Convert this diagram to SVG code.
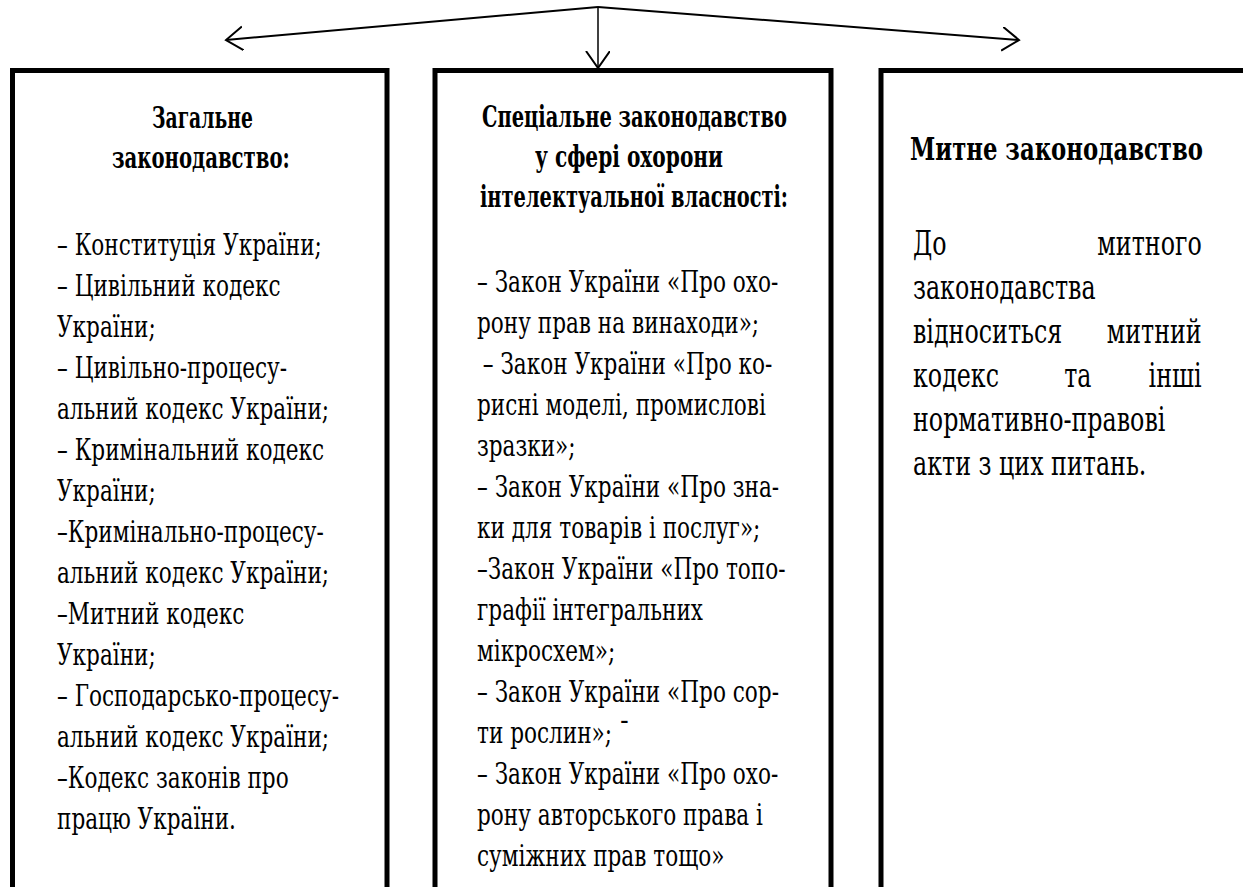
<svg xmlns="http://www.w3.org/2000/svg" width="1243" height="887" viewBox="0 0 1243 887">
<style>
.box{fill:#fff;stroke:#000;stroke-width:5}
.t{font-family:"DejaVu Serif","Liberation Serif",serif;font-size:30px;fill:#000}
.r{font-size:33px}
.b{font-weight:bold}
.ln{fill:none;stroke:#000;stroke-width:2}
</style>
<defs>
<marker id="arr" markerUnits="userSpaceOnUse" markerWidth="30" markerHeight="30" refX="17" refY="12" orient="auto"><path d="M0,0 L17,12 L0,24" fill="none" stroke="#000" stroke-width="2"/></marker>
</defs>
<rect width="1243" height="887" fill="#fff"/>
<g id="connectors">
<path class="ln" d="M598,7 L226,40" marker-end="url(#arr)"/>
<path class="ln" d="M598,7 L1019,40" marker-end="url(#arr)"/>
<path class="ln" d="M598,7 L598,68" style="stroke-width:1.5" marker-end="url(#arr)"/>
</g>
<g id="general">
<rect class="box" x="12.5" y="70.5" width="374.5" height="840"/>
<g transform="translate(152,128) scale(0.7,1)"><text class="t b" x="0" y="0" textLength="144" lengthAdjust="spacingAndGlyphs">Загальне</text></g>
<g transform="translate(112,168) scale(0.7,1)"><text class="t b" x="0" y="0" textLength="254" lengthAdjust="spacingAndGlyphs">законодавство:</text></g>
<g transform="translate(57,0) scale(0.72,1)">
<text class="t" x="0" y="255.5">– Конституція України;</text>
<text class="t" x="0" y="296.5">– Цивільний кодекс</text>
<text class="t" x="0" y="337.5">України;</text>
<text class="t" x="0" y="378.5">– Цивільно-процесу-</text>
<text class="t" x="0" y="419.5">альний кодекс України;</text>
<text class="t" x="0" y="460.5">– Кримінальний кодекс</text>
<text class="t" x="0" y="501.5">України;</text>
<text class="t" x="0" y="542.5">–Кримінально-процесу-</text>
<text class="t" x="0" y="583.5">альний кодекс України;</text>
<text class="t" x="0" y="624.5">–Митний кодекс</text>
<text class="t" x="0" y="665.5">України;</text>
<text class="t" x="0" y="706.5">– Господарсько-процесу-</text>
<text class="t" x="0" y="747.5">альний кодекс України;</text>
<text class="t" x="0" y="788.5">–Кодекс законів про</text>
<text class="t" x="0" y="829.5">працю України.</text>
</g>
</g>
<g id="special">
<rect class="box" x="435" y="70.5" width="396" height="840"/>
<g transform="translate(482,127) scale(0.7,1)"><text class="t b" x="0" y="0" textLength="435.7" lengthAdjust="spacingAndGlyphs">Спеціальне законодавство</text></g>
<g transform="translate(535,167) scale(0.7,1)"><text class="t b" x="0" y="0" textLength="268.6" lengthAdjust="spacingAndGlyphs">у сфері охорони</text></g>
<g transform="translate(480,207) scale(0.7,1)"><text class="t b" x="0" y="0" textLength="440" lengthAdjust="spacingAndGlyphs">інтелектуальної власності:</text></g>
<g transform="translate(477,0) scale(0.72,1)">
<text class="t" x="0" y="292.5">– Закон України «Про охо-</text>
<text class="t" x="0" y="333.5">рону прав на винаходи»;</text>
<text class="t" x="8" y="374.5">– Закон України «Про ко-</text>
<text class="t" x="0" y="415.5">рисні моделі, промислові</text>
<text class="t" x="0" y="456.5">зразки»;</text>
<text class="t" x="0" y="497.5">– Закон України «Про зна-</text>
<text class="t" x="0" y="538.5">ки для товарів і послуг»;</text>
<text class="t" x="0" y="579.5">–Закон України «Про топо-</text>
<text class="t" x="0" y="620.5">графії інтегральних</text>
<text class="t" x="0" y="661.5">мікросхем»;</text>
<text class="t" x="0" y="702.5">– Закон України «Про сор-</text>
<text class="t" x="0" y="743.5">ти рослин»; ˉ</text>
<text class="t" x="0" y="784.5">– Закон України «Про охо-</text>
<text class="t" x="0" y="825.5">рону авторського права і</text>
<text class="t" x="0" y="866.5">суміжних прав тощо»</text>
</g>
</g>
<g id="customs">
<rect class="box" x="881" y="70.5" width="400" height="840"/>
<g transform="translate(910,160) scale(0.7,1)"><text class="t b" x="0" y="0" style="font-size:32px" textLength="418.6" lengthAdjust="spacingAndGlyphs">Митне законодавство</text></g>
<g transform="translate(913,0) scale(0.72,1)">
<text class="t r" y="255"><tspan x="0">До</tspan><tspan x="401" text-anchor="end">митного</tspan></text>
<text class="t r" x="0" y="299">законодавства</text>
<text class="t r" y="343"><tspan x="0">відноситься</tspan><tspan x="401" text-anchor="end">митний</tspan></text>
<text class="t r" y="387"><tspan x="0">кодекс</tspan><tspan x="229" text-anchor="middle">та</tspan><tspan x="401" text-anchor="end">інші</tspan></text>
<text class="t r" x="0" y="431">нормативно-правові</text>
<text class="t r" x="0" y="475">акти з цих питань.</text>
</g>
</g>
</svg>
